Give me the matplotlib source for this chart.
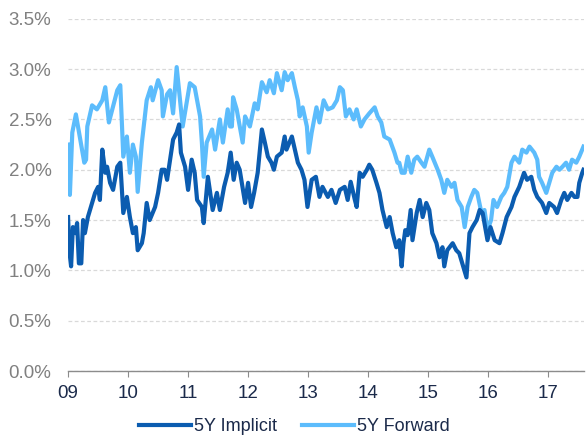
import matplotlib.pyplot as plt

plt.rcParams['font.family'] = ['Liberation Sans', 'DejaVu Sans']

# 5Y Implicit (decimal year, %)
imp_dates = [2009.00, 2009.02, 2009.05, 2009.08, 2009.12, 2009.15, 2009.18, 2009.22, 2009.25, 2009.28,
             2009.33, 2009.40, 2009.45, 2009.50, 2009.53, 2009.57, 2009.62, 2009.65, 2009.70, 2009.75,
             2009.82, 2009.87, 2009.92, 2009.98, 2010.03, 2010.08, 2010.13, 2010.16, 2010.23, 2010.26,
             2010.31, 2010.36, 2010.45, 2010.50, 2010.56, 2010.61, 2010.65, 2010.70, 2010.75, 2010.81,
             2010.85, 2010.88, 2010.95, 2011.00, 2011.06, 2011.11, 2011.15, 2011.23, 2011.26, 2011.33,
             2011.41, 2011.48, 2011.53, 2011.60, 2011.66, 2011.71, 2011.76, 2011.81, 2011.86, 2011.95,
             2012.00, 2012.05, 2012.10, 2012.16, 2012.23, 2012.28, 2012.33, 2012.39, 2012.43, 2012.48,
             2012.56, 2012.61, 2012.64, 2012.73, 2012.78, 2012.83, 2012.89, 2012.94, 2012.99, 2013.06,
             2013.13, 2013.19, 2013.24, 2013.33, 2013.39, 2013.46, 2013.53, 2013.61, 2013.66, 2013.71,
             2013.78, 2013.81, 2013.86, 2013.91, 2013.98, 2014.02, 2014.07, 2014.14, 2014.19, 2014.24,
             2014.31, 2014.36, 2014.41, 2014.47, 2014.52, 2014.56, 2014.59, 2014.62, 2014.66, 2014.71,
             2014.74, 2014.81, 2014.86, 2014.91, 2014.97, 2015.02, 2015.07, 2015.14, 2015.19, 2015.24,
             2015.27, 2015.32, 2015.41, 2015.47, 2015.52, 2015.57, 2015.64, 2015.69, 2015.74, 2015.81,
             2015.86, 2015.91, 2015.99, 2016.04, 2016.11, 2016.19, 2016.24, 2016.31, 2016.39, 2016.44,
             2016.52, 2016.60, 2016.65, 2016.72, 2016.77, 2016.82, 2016.90, 2016.97, 2017.02, 2017.10,
             2017.15, 2017.22, 2017.27, 2017.32, 2017.39, 2017.44, 2017.49, 2017.52, 2017.57, 2017.59]
imp_vals = [1.53, 1.20, 1.04, 1.43, 1.37, 1.47, 1.07, 1.07, 1.50, 1.37,
            1.53, 1.67, 1.77, 1.83, 1.70, 2.20, 1.97, 2.03, 1.87, 1.80,
            2.03, 2.07, 1.57, 1.73, 1.53, 1.37, 1.43, 1.20, 1.27, 1.37,
            1.67, 1.50, 1.63, 1.77, 2.00, 2.00, 1.90, 2.10, 2.30, 2.37,
            2.45, 2.17, 2.03, 1.80, 2.10, 1.97, 1.70, 1.63, 1.47, 1.93,
            1.60, 1.77, 1.60, 1.83, 1.97, 2.17, 1.90, 2.07, 2.00, 1.67,
            1.87, 1.63, 1.77, 1.97, 2.40, 2.27, 2.13, 2.07, 2.00, 2.13,
            2.17, 2.33, 2.20, 2.33, 2.20, 2.07, 2.00, 1.90, 1.63, 1.90,
            1.93, 1.73, 1.83, 1.73, 1.80, 1.67, 1.80, 1.83, 1.70, 1.88,
            1.70, 1.63, 1.97, 1.93, 2.00, 2.05, 2.00, 1.87, 1.77, 1.60,
            1.43, 1.53, 1.37, 1.23, 1.30, 1.04, 1.27, 1.40, 1.35, 1.60,
            1.30, 1.57, 1.70, 1.53, 1.67, 1.60, 1.37, 1.27, 1.13, 1.23,
            1.04, 1.20, 1.27, 1.20, 1.17, 1.07, 0.93, 1.37, 1.43, 1.50,
            1.60, 1.57, 1.30, 1.43, 1.30, 1.27, 1.37, 1.53, 1.63, 1.73,
            1.83, 1.97, 1.90, 1.93, 1.80, 1.73, 1.67, 1.57, 1.67, 1.63,
            1.57, 1.70, 1.77, 1.70, 1.77, 1.73, 1.73, 1.87, 1.97, 2.00]

# 5Y Forward (decimal year, %)
fwd_dates = [2009.00, 2009.03, 2009.07, 2009.13, 2009.27, 2009.30, 2009.32, 2009.40, 2009.48, 2009.57,
             2009.62, 2009.68, 2009.75, 2009.82, 2009.87, 2009.92, 2009.98, 2010.03, 2010.08, 2010.13,
             2010.16, 2010.23, 2010.31, 2010.38, 2010.41, 2010.50, 2010.56, 2010.58, 2010.65, 2010.70,
             2010.75, 2010.81, 2010.91, 2011.03, 2011.11, 2011.20, 2011.23, 2011.26, 2011.31, 2011.40,
             2011.45, 2011.53, 2011.58, 2011.66, 2011.70, 2011.73, 2011.75, 2011.81, 2011.85, 2011.91,
             2011.95, 2012.03, 2012.11, 2012.16, 2012.23, 2012.31, 2012.36, 2012.43, 2012.48, 2012.56,
             2012.61, 2012.66, 2012.73, 2012.78, 2012.83, 2012.86, 2012.91, 2012.98, 2013.01, 2013.06,
             2013.14, 2013.19, 2013.26, 2013.33, 2013.41, 2013.48, 2013.53, 2013.58, 2013.63, 2013.69,
             2013.76, 2013.81, 2013.88, 2013.94, 2014.02, 2014.11, 2014.16, 2014.22, 2014.27, 2014.36,
             2014.44, 2014.49, 2014.52, 2014.56, 2014.61, 2014.66, 2014.72, 2014.77, 2014.82, 2014.89,
             2014.94, 2015.02, 2015.07, 2015.16, 2015.22, 2015.27, 2015.32, 2015.39, 2015.44, 2015.49,
             2015.56, 2015.61, 2015.66, 2015.72, 2015.77, 2015.82, 2015.89, 2015.94, 2015.99, 2016.05,
             2016.09, 2016.15, 2016.22, 2016.27, 2016.32, 2016.39, 2016.44, 2016.52, 2016.57, 2016.64,
             2016.69, 2016.77, 2016.82, 2016.85, 2016.90, 2016.97, 2017.02, 2017.07, 2017.14, 2017.19,
             2017.24, 2017.30, 2017.35, 2017.40, 2017.47, 2017.52, 2017.59]
fwd_vals = [2.25, 1.75, 2.37, 2.55, 2.07, 2.10, 2.43, 2.64, 2.60, 2.69,
            2.82, 2.47, 2.63, 2.79, 2.84, 2.13, 2.33, 1.97, 2.25, 2.13,
            1.78, 2.27, 2.69, 2.82, 2.69, 2.89, 2.79, 2.53, 2.75, 2.79,
            2.56, 3.02, 2.43, 2.86, 2.82, 2.53, 2.27, 1.93, 2.27, 2.40,
            2.20, 2.50, 2.27, 2.60, 2.43, 2.43, 2.72, 2.60, 2.47, 2.27,
            2.53, 2.43, 2.66, 2.60, 2.87, 2.77, 2.89, 2.76, 2.96, 2.79,
            2.97, 2.89, 2.96, 2.82, 2.69, 2.53, 2.62, 2.43, 2.17, 2.37,
            2.62, 2.47, 2.69, 2.60, 2.62, 2.69, 2.82, 2.79, 2.53, 2.60,
            2.50, 2.60, 2.43, 2.50, 2.56, 2.62, 2.53, 2.47, 2.33, 2.30,
            2.17, 2.07, 2.07, 1.97, 1.97, 2.13, 1.97, 2.10, 2.13, 2.07,
            2.03, 2.20, 2.13, 2.00, 1.90, 1.77, 1.90, 1.83, 1.87, 1.70,
            1.63, 1.43, 1.63, 1.73, 1.80, 1.77, 1.57, 1.60, 1.40, 1.50,
            1.70, 1.63, 1.73, 1.77, 1.83, 2.07, 2.13, 2.07, 2.20, 2.17,
            2.23, 2.17, 2.10, 1.93, 1.87, 1.77, 1.87, 1.97, 2.03, 2.00,
            2.03, 2.07, 2.00, 2.10, 2.07, 2.13, 2.23]

year_ticks = [2009, 2010, 2011, 2012, 2013, 2014, 2015, 2016, 2017]
year_labels = ['09', '10', '11', '12', '13', '14', '15', '16', '17']
y_ticks = [0.0, 0.5, 1.0, 1.5, 2.0, 2.5, 3.0, 3.5]

dark = '#0b5cb0'
light = '#5cbcfc'
fs = 13.5

fig = plt.figure(figsize=(5.87, 4.37), dpi=100)
ax = fig.add_axes([0.116, 0.151, 0.879, 0.806])

ax.plot(imp_dates, imp_vals, color=dark, linewidth=3.0, label='5Y Implicit', zorder=3)
ax.plot(fwd_dates, fwd_vals, color=light, linewidth=3.0, label='5Y Forward', zorder=2)

ax.set_xlim(2009, 2017.6)
ax.set_ylim(0, 3.5)
ax.set_yticks(y_ticks)
ax.set_yticklabels(['%.1f%%' % v for v in y_ticks], color='#808080', fontsize=fs)
ax.set_xticks(year_ticks)
ax.set_xticklabels(year_labels, color='#1b2a4a', fontsize=fs)

ax.grid(axis='y', color='#d9d9d9', linestyle=(0, (3, 2)), linewidth=0.9)
ax.set_axisbelow(True)
for s in ['top', 'right', 'left']:
    ax.spines[s].set_visible(False)
ax.spines['bottom'].set_color('#8c8c8c')
ax.spines['bottom'].set_linewidth(1.0)
ax.tick_params(axis='y', length=0, pad=12)
ax.tick_params(axis='x', direction='out', length=4, color='#8c8c8c', pad=6)

ax.legend(loc='center', bbox_to_anchor=(0.438, -0.158), ncol=2, frameon=False,
          fontsize=13, handlelength=2.9, handletextpad=0.15, columnspacing=1.4,
          labelcolor='#1b2a4a', borderpad=0.1)

fig.savefig('out.png', dpi=100)
